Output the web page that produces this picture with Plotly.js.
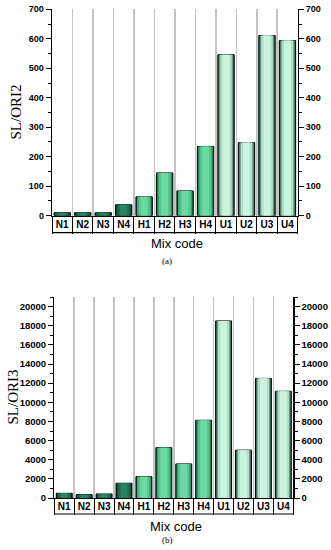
<!DOCTYPE html>
<html>
<head>
<meta charset="utf-8">
<script src="https://cdn.plot.ly/plotly-3.0.1.min.js"></script>
<style>html,body{margin:0;padding:0;background:#fff}#chart{width:331px;height:550px}</style>
</head>
<body>
<div id="chart"></div>
<script>
// ---- data ----
const mixCodes = ["N1","N2","N3","N4","H1","H2","H3","H4","U1","U2","U3","U4"];
const slOri2 = [10, 10, 10, 37, 64, 145, 84, 235, 546, 248, 611, 594];
const slOri3 = [490, 350, 420, 1540, 2230, 5260, 3560, 8120, 18500, 5000, 12500, 11150];
const panelALabel = "(a)";
const panelBLabel = "(b)";
const yTitleA = "SL/ORI2";
const yTitleB = "SL/ORI3";
const xTitle = "Mix code";

// ---- styles ----
const groupShades = {
  N: ["#0c2c1e", "#165a3d", "#1d6e4c", "#288460"],
  H: ["#1c4a34", "#38a06e", "#50c78d", "#6cd9a4"],
  U: ["#2a3c33", "#6e9a85", "#a9e3c8", "#cbf3e0"]
};
const layerWidths = [0.8, 0.7, 0.56, 0.34];
const W = 331, H = 550;
const domA = {x: [52/W, 297.7/W], y: [1-215.7/H, 1-9.3/H], cellH: 17};
const domB = {x: [54.3/W, 293.3/W], y: [1-498/H, 1-297/H], cellH: 16};

const sans = "'Liberation Sans', Arial, sans-serif";
const tickFont = {family: sans, size: 9, color: "#000", weight: "bold"};
const catFont = {family: sans, size: 10, color: "#000", weight: "bold"};

function layers(values, xa, ya) {
  return layerWidths.map((w, i) => ({
    type: "bar", x: mixCodes, y: values, xaxis: xa, yaxis: ya,
    width: w, hoverinfo: "skip", showlegend: false,
    marker: {
      color: mixCodes.map(c => groupShades[c[0]][i]),
      line: {color: "#000", width: i === 0 ? 1 : 0}
    }
  }));
}
function ghost(values, xa, ya) {
  return {type: "scatter", mode: "none", x: mixCodes, y: values, xaxis: xa, yaxis: ya, hoverinfo: "skip", showlegend: false};
}

const traces = [
  ...layers(slOri2, "x", "y"), ghost(slOri2, "x", "y2"),
  ...layers(slOri3, "x2", "y3"), ghost(slOri3, "x2", "y4")
];

function xAxis(dom, anchor) {
  return {
    domain: dom.x, anchor: anchor, type: "category", range: [-0.5, mixCodes.length - 0.5],
    tickson: "boundaries", ticks: "outside", ticklen: dom.cellH, tickwidth: 1, tickcolor: "#000",
    showline: true, linecolor: "#000", linewidth: 1.2,
    showgrid: true, gridcolor: "#c4c4c4", gridwidth: 1.5,
    tickfont: catFont, tickangle: 0, ticklabelstandoff: -1, fixedrange: true
  };
}
function yAxis(dom, anchor, range, dtick, minor, side, overlay) {
  const a = {
    domain: dom.y, anchor: anchor, range: range, dtick: dtick, tick0: 0,
    ticks: "outside", ticklen: 5, tickwidth: 1, tickcolor: "#000",
    minor: {ticks: "outside", ticklen: 3, dtick: minor, tick0: 0, tickcolor: "#000", showgrid: false},
    showline: true, linecolor: "#000", linewidth: 1.3, showgrid: false, zeroline: false,
    tickfont: tickFont, tickformat: "d", side: side, fixedrange: true
  };
  if (overlay) a.overlaying = overlay;
  return a;
}

const shapes = [domA, domB].map(d => ({
  type: "line", xref: "paper", yref: "paper",
  x0: d.x[0], x1: d.x[1], y0: d.y[0] - d.cellH / H, y1: d.y[0] - d.cellH / H,
  line: {color: "#000", width: 1.2}
}));

const serif = "'Liberation Serif', 'Times New Roman', serif";
const annotations = [
  {text: yTitleA, x: 15/W, y: (domA.y[0]+domA.y[1])/2, textangle: -90, font: {family: serif, size: 15, color: "#000"}},
  {text: yTitleB, x: 13/W, y: (domB.y[0]+domB.y[1])/2, textangle: -90, font: {family: serif, size: 15, color: "#000"}},
  {text: xTitle, x: 177/W, y: 1-244/H, font: {family: sans, size: 13, color: "#000"}},
  {text: xTitle, x: 176/W, y: 1-526/H, font: {family: sans, size: 13, color: "#000"}},
  {text: panelALabel, x: 167.5/W, y: 1-261/H, font: {family: serif, size: 9, color: "#000"}},
  {text: panelBLabel, x: 167.5/W, y: 1-540/H, font: {family: serif, size: 9, color: "#000"}}
].map(a => Object.assign({xref: "paper", yref: "paper", showarrow: false, xanchor: "center", yanchor: "middle"}, a));

const layout = {
  width: W, height: H, margin: {l: 0, r: 0, t: 0, b: 0},
  paper_bgcolor: "#fff", plot_bgcolor: "rgba(0,0,0,0)",
  barmode: "overlay", showlegend: false,
  xaxis: xAxis(domA, "y"),
  yaxis: yAxis(domA, "x", [0, 700], 100, 50, "left"),
  yaxis2: yAxis(domA, "x", [0, 700], 100, 50, "right", "y"),
  xaxis2: xAxis(domB, "y3"),
  yaxis3: yAxis(domB, "x2", [0, 21000], 2000, 1000, "left"),
  yaxis4: yAxis(domB, "x2", [0, 21000], 2000, 1000, "right", "y3"),
  shapes: shapes, annotations: annotations
};
layout.yaxis3.tickfont = Object.assign({}, tickFont, {size: 9.5});
layout.yaxis4.tickfont = Object.assign({}, tickFont, {size: 9.5});

Plotly.newPlot("chart", traces, layout, {staticPlot: true, displayModeBar: false});
</script>
</body>
</html>
